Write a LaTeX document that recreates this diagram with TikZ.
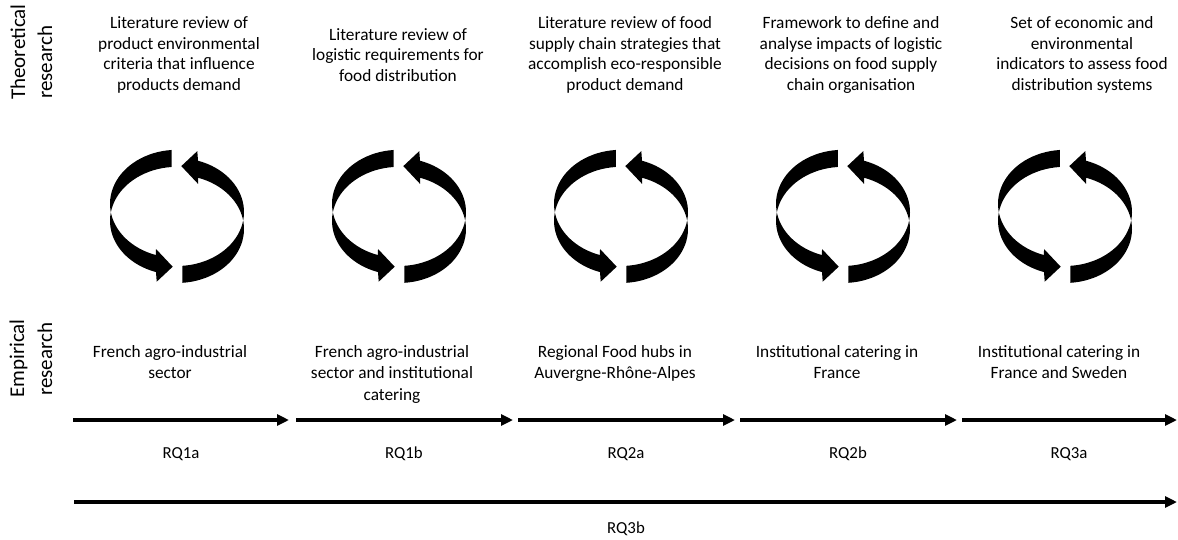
\documentclass[tikz,border=0pt]{standalone}
\usepackage{fontspec}
\setmainfont{Carlito}
\usetikzlibrary{arrows.meta}
\newcommand{\cycarrowhalf}{%
  \fill plot[domain=108.3:265.5, samples=40, variable=\t] ({67*cos(373.8-\t)}, {-12.6+54*sin(373.8-\t)})
    -- (-21,32.6) -- (-4.3,50.3) -- (-20.3,65.3) -- (-21,55.7)
    -- plot[domain=108.3:265.5, samples=40, variable=\t] ({67*cos(\t)}, {4.4+54*sin(\t)}) -- cycle;}
\newcommand{\cycarrow}[2]{%
  \begin{scope}[shift={(#1,#2)}]
    \cycarrowhalf
    \begin{scope}[rotate=180]\cycarrowhalf\end{scope}
  \end{scope}}
\begin{document}
\begin{tikzpicture}[x=1pt,y=-1pt,
  txt/.style={font=\fontsize{17.3}{20.5}\selectfont, align=center, inner sep=0pt},
  etxt/.style={font=\fontsize{17.3}{21.5}\selectfont, align=center, inner sep=0pt, anchor=north},
  side/.style={font=\fontsize{21}{25}\selectfont, rotate=90, anchor=base west, inner sep=0pt},
  rq/.style={font=\fontsize{16.8}{20.5}\selectfont, anchor=base, inner sep=0pt},
  seg/.style={line width=4pt, -{Triangle[length=12pt,width=11pt]}}]
\fill[white] (0,0) rectangle (1178,539);
\useasboundingbox (0,0) rectangle (1178,539);
% side labels
\node[side] (th1) at (25,100) {Theoretical};
\node[side] (th2) at (52,99) {research};
\node[side] (em1) at (24,398) {Empirical};
\node[side] (em2) at (52,396) {research};
% theoretical texts
\node[txt] (t1) at (179,55) {Literature review of\\product environmental\\criteria that influence\\products demand};
\node[txt] (t2) at (398,55) {Literature review of\\logistic requirements for\\food distribution};
\node[txt] (t3) at (625,55) {Literature review of food\\supply chain strategies that\\accomplish eco-responsible\\product demand};
\node[txt] (t4) at (851,55) {Framework to define and\\analyse impacts of logistic\\decisions on food supply\\chain organisation};
\node[txt] (t5) at (1082,55) {Set of economic and\\environmental\\indicators to assess food\\distribution systems};
% cycles
\cycarrow{177}{216.4}
\cycarrow{399}{216.4}
\cycarrow{621}{216.4}
\cycarrow{843}{216.4}
\cycarrow{1065}{216.4}
% empirical texts
\node[etxt] (e1) at (170,345) {French agro-industrial\\sector};
\node[etxt] (e2) at (392,345) {French agro-industrial\\sector and institutional\\catering};
\node[etxt] (e3) at (615,345) {Regional Food hubs in\\Auvergne-Rhône-Alpes};
\node[etxt] (e4) at (837,345) {Institutional catering in\\France};
\node[etxt] (e5) at (1059,345) {Institutional catering in\\France and Sweden};
% arrows
\coordinate (a1s) at (73,420);  \coordinate (a1e) at (289,420);
\coordinate (a2s) at (296,420); \coordinate (a2e) at (513,420);
\coordinate (a3s) at (518,420); \coordinate (a3e) at (735,420);
\coordinate (a4s) at (740,420); \coordinate (a4e) at (957,420);
\coordinate (a5s) at (962,420); \coordinate (a5e) at (1177,420);
\coordinate (bs) at (74,502);   \coordinate (be) at (1177,502);
\draw[seg] (a1s) -- (a1e);
\draw[seg] (a2s) -- (a2e);
\draw[seg] (a3s) -- (a3e);
\draw[seg] (a4s) -- (a4e);
\draw[seg] (a5s) -- (a5e);
\draw[seg] (bs) -- (be);
\node[rq] (r1) at (181,458) {RQ1a};
\node[rq] (r2) at (404,458) {RQ1b};
\node[rq] (r3) at (626,458) {RQ2a};
\node[rq] (r4) at (848,458) {RQ2b};
\node[rq] (r5) at (1069,458) {RQ3a};
\node[rq] (r6) at (626,533) {RQ3b};
\end{tikzpicture}
\end{document}
